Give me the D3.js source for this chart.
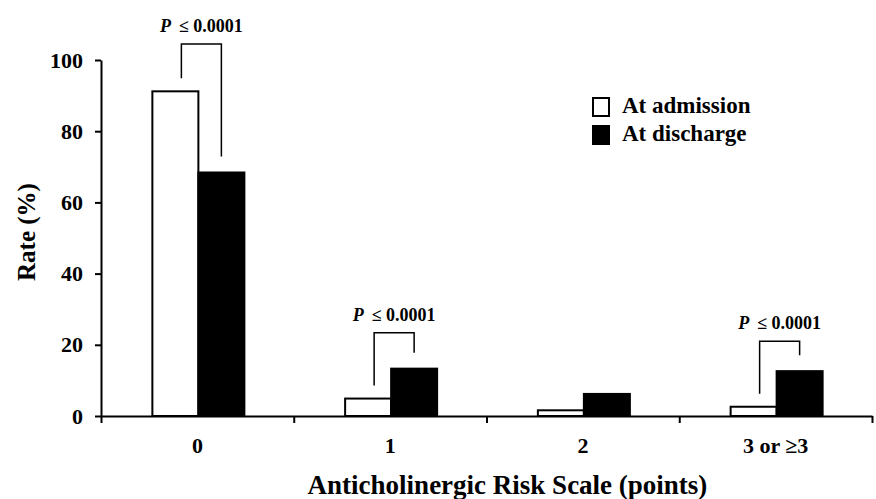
<!DOCTYPE html>
<html>
<head>
<meta charset="utf-8">
<script src="https://cdnjs.cloudflare.com/ajax/libs/d3/7.8.5/d3.min.js"></script>
</head>
<body style="margin:0;background:#fff">
<svg id="chart" width="876" height="499"></svg>
<script>
const categories = ["0", "1", "2", "3 or \u22653"];
const admission = [91.2, 4.9, 1.6, 2.6];
const discharge = [68.4, 13.3, 6.2, 12.6];
const yTicks = [0, 20, 40, 60, 80, 100];
const seriesNames = ["At admission", "At discharge"];
// significance brackets: category index, bracket top (rate units)
const sigCategory = [0, 1, 3];
const sigTop = [104.5, 23.4, 21];
const sigLabel = "\u2264 0.0001";

const FONT = "'Liberation Serif', 'Times New Roman', serif";

const svg = d3.select("#chart"),
    margin = { top: 60, right: 4, bottom: 83, left: 101 },
    width = 876 - margin.left - margin.right,
    height = 499 - margin.top - margin.bottom,
    chart = svg.append("g").attr("transform", `translate(${margin.left},${margin.top})`);

function txt(sel, size) {
    return sel.style("font-family", FONT)
        .style("font-weight", "bold")
        .style("font-size", size + "px")
        .style("fill", "#000");
}

const x = d3.scaleBand().domain(categories).range([0, width]).padding(0);
const xEdge = d3.scaleLinear().domain([0, categories.length]).range([0, width]);
const y = d3.scaleLinear().domain([0, 100]).range([height, 0]);

const barW = 46;
const sub = d3.scaleBand().domain([0, 1]).range([0, barW * 2]);
const pairOffset = x.bandwidth() / 2 - barW + 1;

// bars
const data = categories.map((c, i) => ({ cat: c, vals: [admission[i], discharge[i]] }));
const groups = chart.selectAll("g.cat")
    .data(data)
    .enter().append("g")
    .attr("transform", d => `translate(${x(d.cat) + pairOffset},0)`);

groups.selectAll("rect")
    .data(d => d.vals.map((v, k) => ({ k, v })))
    .enter().append("rect")
    .attr("x", d => sub(d.k))
    .attr("y", d => y(d.v))
    .attr("width", sub.bandwidth())
    .attr("height", d => height - y(d.v))
    .attr("fill", d => d.k === 0 ? "#fff" : "#000")
    .attr("stroke", "#000")
    .attr("stroke-width", 2);

// y axis
chart.append("g")
    .call(d3.axisLeft(y).tickValues(yTicks).tickSize(6).tickPadding(12).tickSizeOuter(0))
    .call(g => txt(g.selectAll("text"), 22))
    .call(g => g.selectAll("path, line").attr("stroke", "#000").attr("stroke-width", 2));

// x axis: ticks at category edges, labels at centres
chart.append("g")
    .attr("transform", `translate(0,${height})`)
    .call(d3.axisBottom(xEdge).ticks(categories.length).tickSize(7).tickFormat("").tickSizeOuter(0))
    .call(g => g.selectAll("path, line").attr("stroke", "#000").attr("stroke-width", 2));

chart.append("g")
    .attr("transform", `translate(0,${height})`)
    .call(d3.axisBottom(x).tickSize(0).tickPadding(21))
    .call(g => g.select(".domain").remove())
    .call(g => txt(g.selectAll("text"), 22));

// axis titles
txt(chart.append("text"), 27)
    .attr("text-anchor", "middle")
    .attr("x", width / 2 + 21)
    .attr("y", height + 78)
    .text("Anticholinergic Risk Scale (points)");

txt(chart.append("text"), 25)
    .attr("text-anchor", "middle")
    .attr("transform", "rotate(-90)")
    .attr("x", -172)
    .attr("y", -66)
    .text("Rate (%)");

// significance brackets
sigCategory.forEach((ci, j) => {
    const c = categories[ci];
    const x0 = x(c) + pairOffset + sub(0) + sub.bandwidth() / 2 + 6;
    const x1 = x(c) + pairOffset + sub(1) + sub.bandwidth() / 2;
    const yTop = y(sigTop[j]);
    const y0 = y(admission[ci]) - 13;
    const y1 = y(discharge[ci]) - 16;
    chart.append("path")
        .attr("d", `M${x0},${y0}V${yTop}H${x1}V${y1}`)
        .attr("fill", "none")
        .attr("stroke", "#000")
        .attr("stroke-width", 1.5);
    const t = txt(chart.append("text"), 18)
        .attr("text-anchor", "middle")
        .attr("x", (x0 + x1) / 2)
        .attr("y", yTop - 12);
    t.append("tspan").style("font-style", "italic").text("P");
    t.append("tspan").attr("dx", 8).text(sigLabel);
});

// legend
const legend = chart.append("g").attr("transform", `translate(${592 - margin.left},${97 - margin.top})`);
seriesNames.forEach((name, i) => {
    legend.append("rect")
        .attr("x", 1)
        .attr("y", i * 28 + 1)
        .attr("width", 16)
        .attr("height", 18)
        .attr("fill", i === 0 ? "#fff" : "#000")
        .attr("stroke", "#000")
        .attr("stroke-width", 2);
    txt(legend.append("text"), 23)
        .attr("x", 30)
        .attr("y", i * 28 + 16)
        .text(name);
});
</script>
</body>
</html>
